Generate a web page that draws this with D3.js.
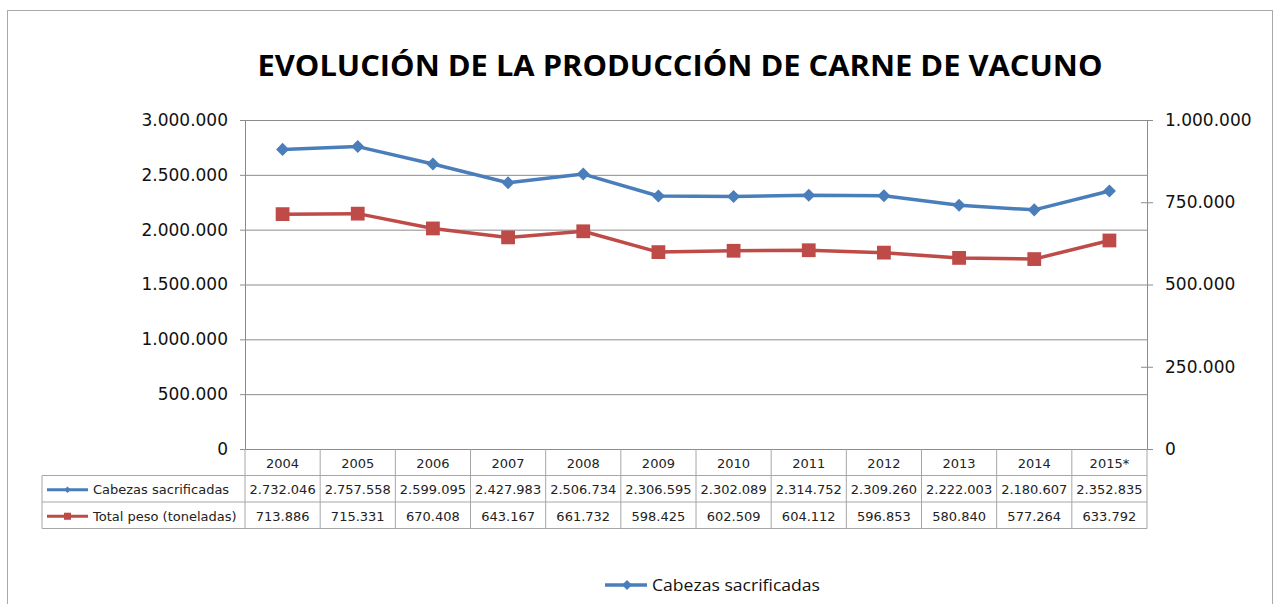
<!DOCTYPE html>
<html>
<head>
<meta charset="utf-8">
<script src="https://cdn.jsdelivr.net/npm/d3@7"></script>
<style>
  body { margin: 0; background: #fff; }
  svg { display: block; }
</style>
</head>
<body>
<svg id="chart"></svg>
<script>
// data
const years = ["2004", "2005", "2006", "2007", "2008", "2009", "2010", "2011", "2012", "2013", "2014", "2015*"];
const cabezas = [2732046, 2757558, 2599095, 2427983, 2506734, 2306595, 2302089, 2314752, 2309260, 2222003, 2180607, 2352835];
const peso = [713886, 715331, 670408, 643167, 661732, 598425, 602509, 604112, 596853, 580840, 577264, 633792];
const leftTicks = [0, 500000, 1000000, 1500000, 2000000, 2500000, 3000000];
const rightTicks = [0, 250000, 500000, 750000, 1000000];
const seriesNames = ["Cabezas sacrificadas", "Total peso (toneladas)"];

const W = 1275, H = 604;
const plot = { left: 245, right: 1147, top: 120, bottom: 449 };
const rowH = 26.5;
const tableLeft = 42;
const blue = "#4a7ebb", red = "#be4b48", gridCol = "#8c8c8c", tableCol = "#a6a6a6";

const svg = d3.select("#chart").attr("width", W).attr("height", H);
svg.append("rect").attr("width", W).attr("height", H).attr("fill", "#fff");

// outer chart border
svg.append("rect")
  .attr("x", 7.5).attr("y", 10.5).attr("width", 1265).attr("height", 620)
  .attr("fill", "none").attr("stroke", "#a9a9a9");

// locale with dots as thousands separator
const es = d3.formatLocale({ decimal: ",", thousands: ".", grouping: [3], currency: ["", "€"] });
const fmt = es.format(",d");

const x = d3.scaleBand().domain(years).range([plot.left, plot.right]);
const yL = d3.scaleLinear().domain([0, 3000000]).range([plot.bottom, plot.top]);
const yR = d3.scaleLinear().domain([0, 1000000]).range([plot.bottom, plot.top]);
const cx = d => x(d) + x.bandwidth() / 2;

// title
svg.append("text")
  .attr("x", 680).attr("y", 76)
  .attr("text-anchor", "middle")
  .attr("textLength", 845).attr("lengthAdjust", "spacingAndGlyphs")
  .style("font-family", "'Open Sans', sans-serif")
  .style("font-weight", 700).style("font-size", "29px")
  .text("EVOLUCIÓN DE LA PRODUCCIÓN DE CARNE DE VACUNO");

// gridlines
svg.append("g")
  .attr("transform", `translate(${plot.left},0)`)
  .call(d3.axisLeft(yL).tickValues(leftTicks).tickSize(-(plot.right - plot.left)).tickFormat(""))
  .call(g => g.select(".domain").remove())
  .call(g => g.selectAll("line").attr("stroke", gridCol));

// left axis
svg.append("g")
  .attr("transform", `translate(${plot.left},0)`)
  .call(d3.axisLeft(yL).tickValues(leftTicks).tickSize(5).tickPadding(12).tickFormat(fmt))
  .call(g => g.select(".domain").attr("stroke", gridCol))
  .call(g => g.selectAll("line").attr("stroke", gridCol))
  .call(g => g.selectAll("text").attr("fill", "#111")
    .style("font-family", "'DejaVu Sans', sans-serif").style("font-size", "17px"));

// right axis (secondary, for Total peso)
svg.append("g")
  .attr("transform", `translate(${plot.right},0)`)
  .call(d3.axisRight(yR).tickValues(rightTicks).tickSize(6).tickPadding(12).tickFormat(fmt))
  .call(g => g.select(".domain").attr("stroke", gridCol))
  .call(g => g.selectAll("line").attr("stroke", gridCol))
  .call(g => g.selectAll("text").attr("fill", "#111")
    .style("font-family", "'DejaVu Sans', sans-serif").style("font-size", "17px"));
// inner half of the cross ticks
svg.append("g")
  .attr("transform", `translate(${plot.right},0)`)
  .call(d3.axisLeft(yR).tickValues([250000, 750000]).tickSize(6).tickFormat(""))
  .call(g => g.select(".domain").remove())
  .call(g => g.selectAll("line").attr("stroke", gridCol));

// series: diamonds for cabezas (left axis), squares for peso (right axis)
const series = [
  { name: seriesNames[0], values: cabezas, y: yL, color: blue, diamond: true, size: 85, keySize: 22 },
  { name: seriesNames[1], values: peso, y: yR, color: red, diamond: false, size: 190, keySize: 50 }
];
const marker = (s, size) => d3.symbol(d3.symbolSquare, size)();
const rot = s => s.diamond ? " rotate(45)" : "";

series.forEach(s => {
  const line = d3.line().x((d, i) => cx(years[i])).y(d => s.y(d));
  svg.append("path")
    .datum(s.values)
    .attr("d", line)
    .attr("fill", "none")
    .attr("stroke", s.color)
    .attr("stroke-width", 3.5)
    .attr("stroke-linejoin", "round");

  svg.append("g").selectAll("path")
    .data(s.values)
    .join("path")
    .attr("d", marker(s, s.size))
    .attr("transform", (d, i) => `translate(${cx(years[i])},${s.y(d)})` + rot(s))
    .attr("fill", s.color);
});

// data table
const table = svg.append("g").style("font-family", "'DejaVu Sans', sans-serif").style("font-size", "13px");
const rowsTop = plot.bottom + rowH;

// horizontal lines
[1, 2, 3].forEach(k => {
  const yy = plot.bottom + k * rowH;
  table.append("line")
    .attr("x1", tableLeft).attr("x2", plot.right)
    .attr("y1", yy).attr("y2", yy)
    .attr("stroke", tableCol);
});
// vertical lines
years.forEach(yr => {
  table.append("line")
    .attr("x1", x(yr)).attr("x2", x(yr))
    .attr("y1", plot.bottom).attr("y2", plot.bottom + 3 * rowH)
    .attr("stroke", tableCol);
});
table.append("line")
  .attr("x1", plot.right).attr("x2", plot.right)
  .attr("y1", plot.bottom).attr("y2", plot.bottom + 3 * rowH)
  .attr("stroke", tableCol);
table.append("line")
  .attr("x1", tableLeft).attr("x2", tableLeft)
  .attr("y1", rowsTop).attr("y2", plot.bottom + 3 * rowH)
  .attr("stroke", tableCol);

// header
table.selectAll(".hdr")
  .data(years)
  .join("text")
  .attr("x", d => cx(d))
  .attr("y", plot.bottom + rowH / 2 + 1)
  .attr("text-anchor", "middle")
  .attr("dominant-baseline", "central")
  .attr("fill", "#222")
  .text(d => d);

series.forEach((s, r) => {
  const yy = rowsTop + r * rowH + rowH / 2 + 1;
  // legend key
  table.append("line")
    .attr("x1", 47).attr("x2", 88).attr("y1", yy).attr("y2", yy)
    .attr("stroke", s.color).attr("stroke-width", 3);
  table.append("path")
    .attr("d", marker(s, s.keySize))
    .attr("transform", `translate(67.5,${yy})` + rot(s))
    .attr("fill", s.color);
  table.append("text")
    .attr("x", 93).attr("y", yy)
    .attr("dominant-baseline", "central")
    .attr("fill", "#222")
    .text(s.name);
  table.append("g").selectAll("text")
    .data(s.values)
    .join("text")
    .attr("x", (d, i) => cx(years[i]))
    .attr("y", yy)
    .attr("text-anchor", "middle")
    .attr("dominant-baseline", "central")
    .attr("fill", "#222")
    .text(d => fmt(d));
});

// bottom legend (only the first entry is visible)
const lg = svg.append("g").attr("transform", "translate(0,585)");
lg.append("line").attr("x1", 605).attr("x2", 647).attr("stroke", blue).attr("stroke-width", 3.5);
lg.append("path")
  .attr("d", d3.symbol(d3.symbolSquare, 50)())
  .attr("transform", "translate(627,0) rotate(45)")
  .attr("fill", blue);
lg.append("text")
  .attr("x", 652).attr("y", 0)
  .attr("dominant-baseline", "central")
  .attr("textLength", 168).attr("lengthAdjust", "spacingAndGlyphs")
  .style("font-family", "'Open Sans', sans-serif").style("font-size", "16px")
  .attr("fill", "#111")
  .text(seriesNames[0]);
</script>
</body>
</html>
